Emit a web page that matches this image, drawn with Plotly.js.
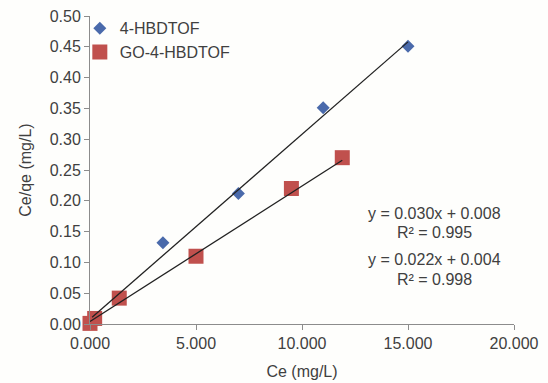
<!DOCTYPE html>
<html><head><meta charset="utf-8">
<script src="https://cdn.plot.ly/plotly-3.0.1.min.js"></script>
<style>html,body{margin:0;padding:0;background:#fefefc;}#chart{width:548px;height:383px;}</style>
</head><body><div id="chart"></div>
<script>
// Data
const seriesNames = ["4-HBDTOF", "GO-4-HBDTOF"];
const ceHB = [0.10, 3.44, 7.00, 11.00, 15.00];
const qHB  = [0.006, 0.132, 0.212, 0.351, 0.451];
const ceGO = [0.00, 0.22, 1.38, 5.00, 9.50, 11.90];
const qGO  = [0.001, 0.009, 0.042, 0.110, 0.220, 0.270];
// Linear fits (from the equations shown)
const fitHB = {slope: 0.030, intercept: 0.008, r2: 0.995};
const fitGO = {slope: 0.022, intercept: 0.004, r2: 0.998};
const xTicks = [0, 5, 10, 15, 20];
const yTicks = [0, 0.05, 0.10, 0.15, 0.20, 0.25, 0.30, 0.35, 0.40, 0.45, 0.50];

function fitLine(xs, f){
  const x0 = Math.min(...xs), x1 = Math.max(...xs);
  return {x:[x0,x1], y:[f.slope*x0+f.intercept, f.slope*x1+f.intercept]};
}
const lHB = fitLine(ceHB, fitHB), lGO = fitLine(ceGO, fitGO);
const txt = '#404040';
const font = {family:'"Liberation Sans", Arial, sans-serif', size:16, color:txt};

const traces = [
  {x:ceHB, y:qHB, mode:'markers', name:seriesNames[0], type:'scatter', cliponaxis:false,
   marker:{symbol:'diamond', size:10, color:'#4a6aab'}},
  {x:ceGO, y:qGO, mode:'markers', name:seriesNames[1], type:'scatter', cliponaxis:false,
   marker:{symbol:'square', size:15, color:'#c0504d'}},
  {x:lHB.x, y:lHB.y, mode:'lines', showlegend:false, hoverinfo:'skip',
   line:{color:'#222', width:1.3}},
  {x:lGO.x, y:lGO.y, mode:'lines', showlegend:false, hoverinfo:'skip',
   line:{color:'#222', width:1.3}}
];

function eq(f){ return 'y = ' + f.slope.toFixed(3) + 'x + ' + f.intercept.toFixed(3); }
function ann(y, text){
  return {xref:'paper', yref:'paper', x:0.813, y:y, xanchor:'center', yanchor:'middle',
          text:text, showarrow:false, font:font};
}
const layout = {
  width:548, height:383,
  margin:{l:90, r:34, t:15, b:59},
  paper_bgcolor:'#fefefc', plot_bgcolor:'#fefefc',
  font:font,
  showlegend:true,
  legend:{x:-0.024, y:1.012, xanchor:'left', yanchor:'top', bgcolor:'rgba(0,0,0,0)',
          font:font, itemwidth:30, tracegroupgap:0},
  xaxis:{range:[0,20], tickvals:xTicks, tickformat:'.3f', showgrid:false, zeroline:false,
         showline:true, linecolor:'#8c8c8c', linewidth:1, ticks:'outside', ticklen:5,
         tickcolor:'#8c8c8c', tickfont:font,
         title:{text:'Ce (mg/L)', font:font, standoff:14}},
  yaxis:{range:[0,0.5], tickvals:yTicks, tickformat:'.2f', showgrid:false, zeroline:false,
         showline:true, linecolor:'#8c8c8c', linewidth:1, ticks:'outside', ticklen:5,
         tickcolor:'#8c8c8c', tickfont:font,
         title:{text:'Ce/qe (mg/L)', font:font, standoff:14}},
  annotations:[
    ann(0.360, eq(fitHB)),
    ann(0.297, 'R² = ' + fitHB.r2.toFixed(3)),
    ann(0.208, eq(fitGO)),
    ann(0.146, 'R² = ' + fitGO.r2.toFixed(3))
  ]
};
Plotly.newPlot('chart', traces, layout, {displayModeBar:false, staticPlot:true});
</script></body></html>
